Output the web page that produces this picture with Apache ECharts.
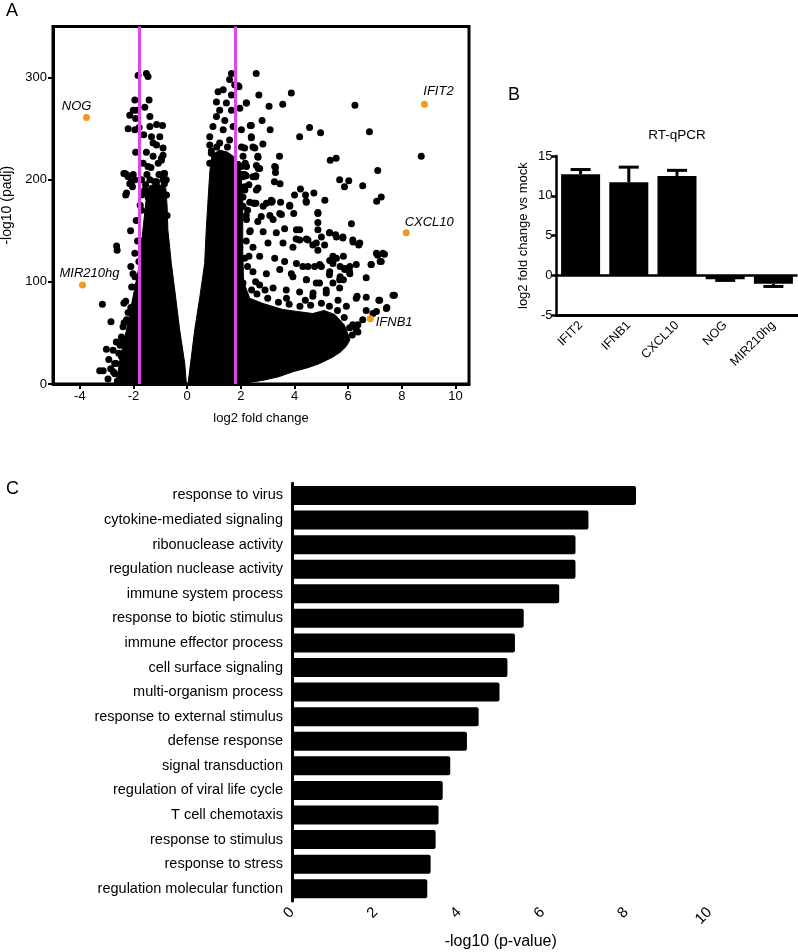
<!DOCTYPE html>
<html><head><meta charset="utf-8">
<script src="https://cdn.jsdelivr.net/npm/echarts@6/dist/echarts.min.js"></script>
<style>html,body{margin:0;padding:0;background:#fff}#c{width:798px;height:952px}</style>
</head><body><div id="c"></div>
<script>
// ---------- Panel A: volcano ----------
const volcanoTicksX = [-4, -2, 0, 2, 4, 6, 8, 10];
const volcanoTicksY = [0, 100, 200, 300];
const foldCutoff = [-1.8, 1.8];
// outlines of the solid (overplotted) masses of genes
const leftMass = [[-0.03,0],[-0.09,20],[-0.28,53],[-0.43,85],[-0.59,118],[-0.72,151],[-0.75,175],[-0.8,192],[-1.1,196],[-1.4,194],[-1.5,188],[-1.65,151],[-1.77,118],[-2.02,85],[-2.26,53],[-2.5,25],[-2.6,8],[-2.55,0]];
const rightMass = [[0.03,0],[0.28,53],[0.47,85],[0.65,118],[0.71,151],[0.8,190],[0.85,210],[0.92,224],[1.2,229],[1.5,227],[1.77,222],[2.0,208],[2.07,180],[2.07,130],[2.1,100],[2.33,84],[2.8,79],[3.56,73],[4.1,71],[4.68,69],[5.1,72],[5.5,68],[5.85,58],[6.05,45],[6.06,43],[5.93,37],[5.7,31],[5.4,26],[4.93,20],[4.5,16],[3.94,12],[3.4,7],[2.8,3.5],[2.3,1.5],[1.85,0]];
const downGenes = [[-3.26,13],[-3.13,13],[-3.01,34],[-2.76,33],[-2.92,24],[-2.70,20],[-2.64,41],[-2.45,46],[-2.39,56],[-2.36,79],[-2.29,81],[-2.26,63],[-2.70,10],[-2.51,7],[-2.45,27],[-2.20,35],[-2.14,20],[-2.07,95],[-2.02,108],[-1.95,128],[-2.10,115],
[-3.16,78],[-2.84,61],[-2.63,135],[-2.61,131],[-2.11,150],[-2.29,185],[-2.36,206],[-2.26,205],[-2.07,198],[-1.95,200],
[-1.83,302],[-1.52,304],[-1.46,301],[-1.95,278],[-1.42,278],[-1.58,271],[-2.01,268],[-2.14,263],[-1.92,260],[-1.39,262],[-2.20,250],[-1.95,249],[-1.39,252],[-1.14,254],[-0.92,253],[-1.62,244],[-1.33,242],[-1.02,242],[-1.14,234],[-0.90,231],[-1.92,227],[-1.52,227],[-1.27,223],[-0.96,219],[-1.64,216],[-1.46,213],[-1.08,216],[-2.32,206],[-2.20,203],[-2.01,205],[-0.84,206],[-1.39,200],[-1.14,198],[-0.90,200],[-2.14,196],[-2.26,187],[-1.58,190],[-1.46,183],[-1.02,190],[-0.77,185],
[-1.27,236],[-0.96,221],[-0.90,224],[-1.21,198],[-0.87,206],[-0.78,200],[-2.04,193],[-1.61,187],[-1.89,268],[-1.79,251],
[-1.9,160],[-1.85,140],[-1.8,120],[-1.9,95],[-2.1,75],[-2.35,60],[-2.4,42],[-2.55,30],[-2.65,20],[-2.75,12],[-2.6,3],[-1.75,175],[-1.7,170],[-0.75,165],[-1.2,192],[-1.5,205],[-1.35,212],[-1.7,200],[-1.05,205],[-0.85,196],
[-2.85,15],[-2.95,5],[-2.5,38],[-2.2,70],[-1.95,105],[-1.72,140],[-1.7,185],[-1.55,195]];
const upGenes = [[2.57,304],[2.67,283],[2.20,275],[3.05,272],[3.56,274],[3.88,285],[6.25,273],[4.56,251],[4.97,246],[4.19,242],[6.79,247],[8.72,223],[5.33,219],[5.55,221],[3.44,223],[2.35,253],[3.09,249],[2.39,242],[2.82,235],[2.45,232],[2.63,223],[2.16,216],[3.29,212],[3.29,207],[2.56,204],[2.20,204],[2.65,211],[3.25,198],[3.46,196],[5.68,200],[6.02,199],[5.86,193],[6.54,194],[7.10,209],[4.22,191],[4.00,185],[4.41,185],[4.72,187],[4.43,179],[5.13,180],[7.23,183],[7.06,179],[2.95,177],[2.56,177],[3.17,179],[3.48,178],[3.82,174],[4.87,168],[4.87,158],[3.97,167],[3.51,166],[3.08,165],[2.63,159],[6.12,157],[3.63,152],[4.19,151],[4.06,142],[4.44,142],[4.87,151],[5.00,144],[5.30,148],[5.53,146],[5.80,144],[6.17,141],[6.39,136],[4.68,136],[5.12,136],[7.35,127],[7.10,126],[7.19,120],[6.85,117],[6.67,104],[5.82,125],[5.43,125],[6.30,117],[6.06,115],[5.70,115],[5.43,118],[5.30,107],[5.70,105],[6.06,108],[5.87,112],[5.00,115],[4.75,115],[4.31,115],[3.88,108],[4.44,102],[4.93,99],[5.43,99],[5.82,102],[7.72,87],[7.14,82],[7.44,75],[6.33,86],[6.67,72],[6.54,63],[6.36,51],[6.17,58],[5.93,76],[5.62,82],[5.18,89],[4.68,86],
[1.65,304],[1.58,298],[1.77,293],[1.34,288],[1.15,286],[1.65,283],[1.09,276],[1.46,275],[1.90,292],[2.21,275],[1.21,268],[1.65,268],[1.09,262],[1.40,258],[1.96,270],[0.96,252],[1.34,249],[1.71,252],[2.02,249],[2.39,253],[0.84,234],[1.21,236],[1.58,239],[2.02,232],[2.39,241],[2.52,231],[0.90,226],[1.34,223],[1.65,219],[2.08,223],[0.84,216],[1.21,213],[1.77,213],[2.21,213],[2.58,214],[2.08,203],[2.45,203],[2.14,193],[2.58,190],[2.08,183],[2.33,178],[0.84,242],[2.79,258],[2.14,231],[2.64,222],[2.02,213],[2.70,211],[3.26,213],[2.14,205],[2.55,203],[2.64,192],[2.48,177],[3.13,180],[1.93,291],
[2.08,174],[2.51,177],[2.83,174],[3.14,178],[3.45,167],[3.82,175],[4.44,178],[4.87,167],[2.21,161],[2.76,164],[3.20,161],[2.33,149],[2.83,149],[3.32,148],[4.07,151],[4.19,141],[4.50,141],[5.31,148],[5.56,144],[5.80,143],[6.18,139],[6.43,138],[1.96,134],[2.45,134],[3.01,138],[3.57,138],[3.94,134],[4.81,138],[4.87,131],[2.14,123],[2.70,125],[3.26,123],[3.63,120],[4.07,118],[4.50,115],[4.94,117],[5.31,121],[5.56,123],[5.87,113],[7.05,128],[7.29,128],[7.23,120],[6.86,117],[1.96,112],[2.45,110],[2.95,108],[3.45,112],[3.94,105],[4.44,102],[4.81,99],[5.31,110],[5.68,102],[6.05,110],[2.08,99],[2.70,97],[3.20,94],[3.69,92],[4.19,90],[4.69,89],[5.18,92],[5.68,94],[6.30,84],[6.67,85],[7.17,82],[7.42,74],[7.67,87],[7.05,71],[6.92,69],[6.30,53],[6.36,58],
[2.4,92],[2.6,88],[3.0,84],[3.4,80],[3.8,78],[4.2,76],[4.6,77],[5.0,79],[5.3,76],[5.6,72],[5.85,65],[6.05,55],[6.15,48],[2.25,115],[2.2,140],[2.2,165],[2.15,190],[2.05,205],[1.9,215],[1.5,232],[1.1,232],[0.9,228],
[2.3,125],[2.35,150],[2.55,100],[2.9,92],[3.7,84],[4.4,82],[2.25,170],[2.3,195]];
const labelledGenes = ['NOG', 'MIR210hg', 'IFIT2', 'CXCL10', 'IFNB1'];
const labelledX = [-3.75, -3.90, 8.84, 8.16, 6.82];
const labelledY = [261, 97, 274, 148, 64];

// ---------- Panel B: RT-qPCR ----------
const qpcrGenes = ['IFIT2', 'IFNB1', 'CXCL10', 'NOG', 'MIR210hg'];
const qpcrMean = [12.7, 11.7, 12.5, -0.46, -1.05];
const qpcrErrEnd = [13.3, 13.6, 13.2, -0.62, -1.38];

// ---------- Panel C: GO terms ----------
const goTerms = ['response to virus','cytokine-mediated signaling','ribonuclease activity','regulation nuclease activity','immune system process','response to biotic stimulus','immune effector process','cell surface signaling','multi-organism process','response to external stimulus','defense response','signal transduction','regulation of viral life cycle','T cell chemotaxis','response to stimulus','response to stress','regulation molecular function'];
const goScores = [8.24, 7.10, 6.79, 6.79, 6.40, 5.55, 5.34, 5.16, 4.97, 4.47, 4.19, 3.79, 3.61, 3.51, 3.44, 3.32, 3.24];

const FONT = 'Liberation Sans, Arial, Helvetica, sans-serif';
const labelOffsets = {
  NOG: {position: 'top', offset: [-10, 1], distance: 2},
  MIR210hg: {position: 'top', offset: [7, 0], distance: 2},
  IFIT2: {position: 'top', offset: [14, 0], distance: 3},
  CXCL10: {position: 'top', offset: [23, 3], distance: 3},
  IFNB1: {position: 'right', offset: [0, 4], distance: 2}
};

const chart = echarts.init(document.getElementById('c'), null, {renderer: 'canvas'});
const blackAxis = {onZero: false, lineStyle: {color: '#000', width: 3}};

const option = {
  animation: false,
  backgroundColor: '#fff',
  textStyle: {fontFamily: FONT, color: '#000'},
  graphic: [
    {type: 'text', left: 6, top: 2, style: {text: 'A', font: '18px ' + FONT, fill: '#000'}},
    {type: 'text', left: 508, top: 86, style: {text: 'B', font: '18px ' + FONT, fill: '#000'}},
    {type: 'text', left: 6, top: 480, style: {text: 'C', font: '18px ' + FONT, fill: '#000'}},
    {type: 'text', x: 677, y: 135, style: {text: 'RT-qPCR', font: '13.5px ' + FONT, fill: '#000', textAlign: 'center', textVerticalAlign: 'middle'}}
  ],
  grid: [
    {left: 53, top: 26.5, width: 416, height: 357.5, show: true, borderColor: '#000', borderWidth: 3, backgroundColor: 'transparent', outerBoundsMode: 'none', containLabel: false},
    {left: 556.5, top: 156, width: 241, height: 159.3, outerBoundsMode: 'none', containLabel: false},
    {left: 292, top: 483.2, width: 417.5, height: 417.8, outerBoundsMode: 'none', containLabel: false}
  ],
  xAxis: [
    {gridIndex: 0, type: 'value', min: -5, max: 10.5,
     axisLine: blackAxis,
     axisTick: {customValues: volcanoTicksX, length: 5, lineStyle: {color: '#000', width: 2}},
     axisLabel: {customValues: volcanoTicksX, fontSize: 13, color: '#000', margin: 6, fontFamily: FONT},
     splitLine: {show: false},
     name: 'log2 fold change', nameLocation: 'middle', nameGap: 28, nameTextStyle: {fontSize: 13, color: '#000', fontFamily: FONT}},
    {gridIndex: 1, type: 'category', data: qpcrGenes,
     axisLine: {onZero: false, lineStyle: {color: '#000', width: 3}},
     axisTick: {alignWithLabel: true, length: 5, lineStyle: {color: '#000', width: 2.5}},
     axisLabel: {rotate: 45, fontSize: 12.5, color: '#000', margin: 8, fontFamily: FONT}},
    {gridIndex: 2, type: 'value', min: 0, max: 10, interval: 2,
     axisLine: blackAxis,
     axisTick: {length: 6, lineStyle: {color: '#000', width: 2.5}},
     axisLabel: {rotate: 45, fontSize: 15, color: '#000', margin: 9, fontFamily: FONT},
     splitLine: {show: false},
     name: '-log10 (p-value)', nameLocation: 'middle', nameGap: 33, nameTextStyle: {fontSize: 16, color: '#000', fontFamily: FONT}}
  ],
  yAxis: [
    {gridIndex: 0, type: 'value', min: 0, max: 350,
     axisLine: blackAxis,
     axisTick: {customValues: volcanoTicksY, length: 5, lineStyle: {color: '#000', width: 2}},
     axisLabel: {customValues: volcanoTicksY, fontSize: 13, color: '#000', margin: 6, fontFamily: FONT},
     splitLine: {show: false},
     name: '-log10 (padj)', nameLocation: 'middle', nameGap: 34, nameRotate: 90, nameTextStyle: {fontSize: 14, color: '#000', fontFamily: FONT}},
    {gridIndex: 1, type: 'value', min: -5, max: 15, interval: 5,
     axisLine: {show: true, onZero: false, lineStyle: {color: '#000', width: 2.5}},
     axisTick: {show: true, length: 5, lineStyle: {color: '#000', width: 2.5}},
     axisLabel: {fontSize: 13, color: '#000', margin: 4, fontFamily: FONT},
     splitLine: {show: false},
     name: 'log2 fold change vs mock', nameLocation: 'middle', nameGap: 27, nameRotate: 90, nameTextStyle: {fontSize: 13, color: '#000', fontFamily: FONT}},
    {gridIndex: 2, type: 'category', data: goTerms, inverse: true,
     axisLine: blackAxis,
     axisTick: {alignWithLabel: true, length: 6, lineStyle: {color: '#000', width: 3}},
     axisLabel: {fontSize: 14.5, color: '#000', margin: 9, fontFamily: FONT}}
  ],
  series: [
    {type: 'custom', xAxisIndex: 0, yAxisIndex: 0, clip: true, silent: true, z: 2,
     data: [[0, 0, 0], [0, 0, 1]],
     renderItem: function (params, api) {
       const poly = params.dataIndex === 0 ? leftMass : rightMass;
       const pts = poly.map(function (p) { return api.coord(p); });
       return {type: 'polygon', shape: {points: pts}, style: {fill: '#000', stroke: '#000', lineWidth: 1}};
     }},
    {type: 'scatter', xAxisIndex: 0, yAxisIndex: 0, symbolSize: 7, z: 3, silent: true,
     itemStyle: {color: '#000', opacity: 1}, data: downGenes.concat(upGenes), clip: true},
    {type: 'scatter', xAxisIndex: 0, yAxisIndex: 0, symbolSize: 7, z: 5, silent: true,
     itemStyle: {color: '#F39A1E', opacity: 1},
     data: labelledGenes.map(function (g, i) {
       const o = labelOffsets[g];
       return {name: g, value: [labelledX[i], labelledY[i]],
               label: {show: true, formatter: g, position: o.position, offset: o.offset, distance: o.distance,
                       fontStyle: 'italic', fontSize: 13, color: '#000', fontFamily: FONT}};
     }),
     markLine: {silent: true, symbol: 'none', label: {show: false},
                lineStyle: {color: '#E344E6', width: 3, type: 'solid', opacity: 1},
                data: foldCutoff.map(function (v) { return {xAxis: v}; })}},
    {type: 'bar', xAxisIndex: 1, yAxisIndex: 1, barWidth: 39, data: qpcrMean,
     itemStyle: {color: '#000'}, silent: true,
     markLine: {silent: true, symbol: 'none', label: {show: false},
                lineStyle: {color: '#000', width: 2.5, type: 'solid', opacity: 1}, data: [{yAxis: 0}]}},
    {type: 'custom', xAxisIndex: 1, yAxisIndex: 1, silent: true, z: 4,
     data: qpcrGenes.map(function (g, i) { return [i, qpcrMean[i], qpcrErrEnd[i]]; }),
     encode: {x: 0, y: [1, 2]},
     renderItem: function (params, api) {
       const p0 = api.coord([api.value(0), api.value(1)]);
       const p1 = api.coord([api.value(0), api.value(2)]);
       const hw = 10;
       return {type: 'group', children: [
         {type: 'line', shape: {x1: p0[0], y1: p0[1], x2: p1[0], y2: p1[1]}, style: {stroke: '#000', lineWidth: 3}},
         {type: 'line', shape: {x1: p1[0] - hw, y1: p1[1], x2: p1[0] + hw, y2: p1[1]}, style: {stroke: '#000', lineWidth: 3}}
       ]};
     }},
    {type: 'bar', xAxisIndex: 2, yAxisIndex: 2, barWidth: 19, data: goScores, silent: true,
     itemStyle: {color: '#000', borderRadius: 2}}
  ]
};
chart.setOption(option);
</script>
</body></html>
